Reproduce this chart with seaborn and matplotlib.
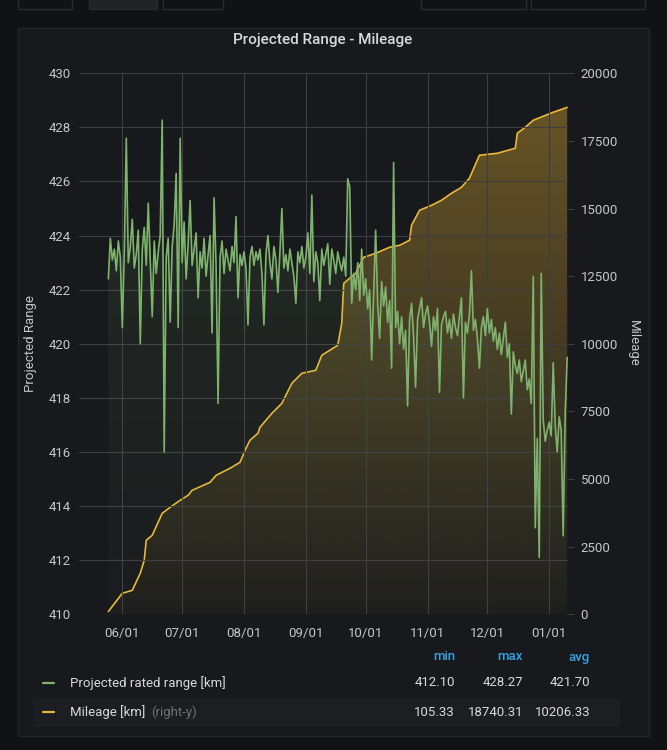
# Projected Range - Mileage (Grafana-style dark panel)

import numpy as np
import pandas as pd
import seaborn as sns
import matplotlib.pyplot as plt
import matplotlib.dates as mdates
from matplotlib.colors import to_rgb
from matplotlib.patches import Rectangle

# ---- data ----
range_may = [422.4, 423.9, 423.1, 423.5, 422.7, 423.8, 423.2]
range_jun = [420.6, 423.4, 427.6, 423.0, 423.6, 424.6, 422.8, 423.3, 424.2, 420.0,
             423.5, 424.3, 422.9, 425.2, 423.1, 421.0, 423.8, 422.6, 423.4, 424.0,
             428.27, 416.0, 423.2, 423.9, 420.8, 423.6, 424.4, 426.3, 420.6, 427.6]
range_jul = [423.0, 424.5, 422.4, 423.7, 425.3, 422.9, 423.5, 424.1, 421.7, 423.4,
             422.8, 423.9, 422.5, 423.3, 424.0, 420.4, 425.4, 422.9, 417.8, 423.2,
             423.8, 422.6, 423.5, 423.1, 422.7, 423.6, 423.0, 424.7, 421.7, 423.3, 422.9]
range_aug = [423.4, 422.8, 420.7, 423.2, 423.6, 422.9, 423.4, 423.1, 423.5, 422.6,
             420.7, 423.3, 424.0, 423.0, 422.4, 423.6, 423.1, 421.9, 423.4, 425.0,
             422.8, 423.3, 422.7, 423.5, 423.0, 422.5, 421.5, 423.4, 423.0, 423.6, 422.8]
range_sep = [423.2, 424.1, 422.6, 425.5, 422.3, 423.4, 423.0, 421.6, 423.5, 422.9,
             423.3, 423.7, 422.2, 423.5, 423.1, 422.6, 423.4, 423.0, 422.7, 423.2,
             422.5, 426.1, 425.8, 421.5, 422.6, 422.0, 423.0, 421.6, 423.5, 421.8]
range_oct = [422.4, 421.3, 422.0, 419.4, 421.9, 424.2, 421.5, 420.2, 422.3, 421.4,
             422.1, 420.8, 421.6, 419.1, 426.7, 420.6, 421.2, 420.0, 421.0, 419.8,
             420.5, 417.7, 420.9, 421.5, 420.3, 418.4, 420.9, 421.3, 421.7, 420.6, 421.1]
range_nov = [421.4, 420.8, 419.9, 421.0, 420.5, 421.3, 418.2, 420.7, 421.0, 421.2,
             420.4, 420.9, 420.2, 421.1, 420.6, 420.3, 421.0, 421.7, 418.0, 420.8,
             420.4, 421.1, 422.7, 420.5, 420.9, 420.2, 419.1, 420.6, 421.0, 420.3]
range_dec = [421.3, 420.4, 420.9, 420.1, 420.6, 419.8, 420.4, 419.6, 420.2, 420.8,
             419.5, 420.0, 417.4, 419.7, 419.2, 418.9, 419.4, 418.6, 419.0, 419.4,
             418.3, 418.7, 417.8, 422.5, 413.2, 416.5, 412.1, 422.6, 417.2, 416.4, 416.8]
range_jan = [417.1, 416.6, 419.3, 417.0, 416.0, 417.3, 416.8, 412.9, 417.4, 419.5]

mileage_dates = ['2019-05-25', '2019-06-01', '2019-06-06', '2019-06-10', '2019-06-12',
                 '2019-06-13', '2019-06-16', '2019-06-21', '2019-06-25', '2019-06-30',
                 '2019-07-04', '2019-07-06', '2019-07-15', '2019-07-18', '2019-07-25',
                 '2019-07-30', '2019-08-02', '2019-08-04', '2019-08-08', '2019-08-09',
                 '2019-08-15', '2019-08-20', '2019-08-25', '2019-08-30', '2019-09-06',
                 '2019-09-09', '2019-09-17', '2019-09-19', '2019-09-20', '2019-09-26',
                 '2019-09-30', '2019-10-06', '2019-10-13', '2019-10-18', '2019-10-23',
                 '2019-10-24', '2019-10-28', '2019-11-03', '2019-11-08', '2019-11-13',
                 '2019-11-18', '2019-11-22', '2019-11-27', '2019-12-06', '2019-12-15',
                 '2019-12-16', '2019-12-20', '2019-12-24', '2020-01-03', '2020-01-10']
mileage_km = [105, 776, 887, 1516, 1996, 2736, 2921, 3734, 3956, 4215,
              4400, 4584, 4880, 5139, 5398, 5619, 6137, 6433, 6692, 6913,
              7431, 7801, 8540, 8910, 9021, 9575, 9945, 10758, 12237, 12607,
              13198, 13346, 13568, 13642, 13827, 14381, 14936, 15121, 15306, 15565,
              15787, 16120, 16970, 17044, 17229, 17784, 18005, 18264, 18560, 18740]

series_names = ['Projected rated range [km]', 'Mileage [km]']
stat_headers = ['min', 'max', 'avg']
stat_range = ['412.10', '428.27', '421.70']
stat_mileage = ['105.33', '18740.31', '10206.33']

range_vals = range_may + range_jun + range_jul + range_aug + range_sep + \
    range_oct + range_nov + range_dec + range_jan
df_range = pd.DataFrame({'date': pd.date_range('2019-05-25', periods=len(range_vals), freq='D'),
                         'range': range_vals})
df_mile = pd.DataFrame({'date': pd.to_datetime(mileage_dates), 'mileage': mileage_km})

# ---- style ----
page_bg = '#111214'
panel_bg = '#18191c'
text_col = '#c4c6c9'
green = '#7eb26d'
orange = '#eab839'

sns.set_theme(style='dark')
plt.rcParams['font.family'] = ['Roboto', 'DejaVu Sans']

fig = plt.figure(figsize=(6.67, 7.5), dpi=100, facecolor=page_bg)

# top toolbar buttons (cut off) and the panel box, behind the axes
for x0, x1, fc in [(18, 72, page_bg), (89, 157, '#222326'), (163, 223, page_bg),
                   (421, 526, page_bg), (531, 645, page_bg)]:
    fig.patches.append(Rectangle((x0 / 667, 1 - 9 / 750), (x1 - x0) / 667, 0.03,
                                 transform=fig.transFigure, facecolor=fc,
                                 edgecolor='#2a2b2e', lw=1, zorder=-10))
fig.patches.append(Rectangle((18 / 667, 1 - 736 / 750), (649 - 18) / 667, (736 - 28) / 750,
                             transform=fig.transFigure, facecolor=panel_bg,
                             edgecolor='#25262a', lw=1, zorder=-10))
# highlighted second legend row
fig.patches.append(Rectangle((33 / 667, 1 - 727 / 750), (620 - 33) / 667, 29 / 750,
                             transform=fig.transFigure, facecolor='#1d1e21',
                             edgecolor='none', zorder=-9))

ax = fig.add_axes([79 / 667, 1 - 614.3 / 750, (568 - 79) / 667, (614.3 - 73.3) / 750])
ax2 = ax.twinx()
ax.set_zorder(ax2.get_zorder() + 1)
ax.patch.set_visible(False)
ax2.patch.set_visible(False)

xmin = mdates.date2num(pd.Timestamp('2019-05-10 07:00'))
xmax = mdates.date2num(pd.Timestamp('2020-01-10 10:00'))


def gradient_fill(axis, x, y, base, top, color, a_top, a_bot, z):
    poly = axis.fill_between(x, y, base, facecolor='none', edgecolor='none')
    img = np.zeros((200, 1, 4))
    img[:, 0, :3] = to_rgb(color)
    img[:, 0, 3] = np.linspace(a_top, a_bot, 200)
    im = axis.imshow(img, aspect='auto', extent=[xmin, xmax, base, top],
                     origin='upper', zorder=z, interpolation='bilinear')
    im.set_clip_path(poly.get_paths()[0], transform=axis.transData)


# mileage on right axis
gradient_fill(ax2, mdates.date2num(df_mile['date']), df_mile['mileage'], 0, 20000,
              orange, 0.40, 0.03, 1)
sns.lineplot(data=df_mile, x='date', y='mileage', ax=ax2, color=orange, linewidth=1.2)

# range on left axis
gradient_fill(ax, mdates.date2num(df_range['date']), df_range['range'], 410, 430,
              green, 0.14, 0.02, 1)
sns.lineplot(data=df_range, x='date', y='range', ax=ax, color=green, linewidth=1.2)

ax.set_xlim(xmin, xmax)
ax.set_ylim(410, 430)
ax.set_yticks(range(410, 431, 2))
ax2.set_ylim(0, 20000)
ax2.set_yticks(range(0, 20001, 2500))

ax.xaxis.set_major_locator(mdates.MonthLocator())
ax.xaxis.set_major_formatter(mdates.DateFormatter('%m/%d'))

ax.grid(True, color='#3d3e42', lw=0.8)
ax2.grid(False)
for a in (ax, ax2):
    for s in a.spines.values():
        s.set_visible(False)
ax.tick_params(axis='y', colors=text_col, labelsize=9.5, length=0, pad=6)
ax.tick_params(axis='x', colors=text_col, labelsize=9.5, length=0, pad=9)
ax2.tick_params(axis='y', colors=text_col, labelsize=9.5, length=4, width=0.8,
                pad=5, right=True, color='#3d3e42')
ax.set_xlabel('')
ax.set_ylabel('Projected Range', color=text_col, fontsize=9.5, labelpad=8)
ax2.set_ylabel('Mileage', color=text_col, fontsize=9.5, rotation=270, labelpad=16)

fig.text(323 / 667, 1 - 40 / 750, 'Projected Range - Mileage', color='#d8d9da',
         fontsize=11, fontweight='medium', ha='center', va='center')

# legend table
cols = [455, 523, 590]
for cx, h in zip(cols, stat_headers):
    fig.text(cx / 667, 1 - 657 / 750, h, color='#33a2e5', fontsize=9.5,
             fontweight='medium', ha='right', va='center')
rows = [(683, green, series_names[0], stat_range), (712, orange, series_names[1], stat_mileage)]
for ry, c, name, stats in rows:
    fig.lines.append(plt.Line2D([43 / 667, 54 / 667], [1 - ry / 750] * 2,
                                transform=fig.transFigure, color=c, lw=1.6))
    fig.text(70 / 667, 1 - ry / 750, name, color='#d8d9da', fontsize=9.5,
             ha='left', va='center')
    for cx, v in zip(cols, stats):
        fig.text(cx / 667, 1 - ry / 750, v, color='#d8d9da', fontsize=9.5,
                 ha='right', va='center')
fig.text(151 / 667, 1 - 712 / 750, '(right-y)', color='#6f7073', fontsize=9.5,
         ha='left', va='center')

fig.savefig('out.png', dpi=100, facecolor=page_bg)
